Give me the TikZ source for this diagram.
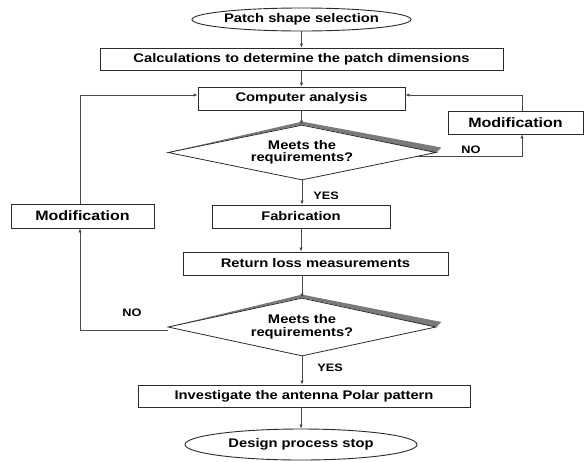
\documentclass[tikz,border=0pt]{standalone}
\usepackage{fontspec}
\setmainfont{Liberation Sans}[FakeStretch=1.18]
\usetikzlibrary{shapes.geometric,arrows.meta,backgrounds}
\definecolor{FCEdge}{HTML}{2B2B2B}
\definecolor{FCLine}{HTML}{4A4A4A}
\definecolor{FCShade}{HTML}{7A7A7A}

\begin{document}
\begin{tikzpicture}[x=1pt,y=-1pt,
  stepbox/.style={draw=FCEdge,line width=0.9pt,rectangle,inner sep=0pt,font=\fontsize{12.5}{14}\selectfont\bfseries},
  termbox/.style={draw=FCEdge,line width=0.9pt,ellipse,inner sep=0pt,font=\fontsize{12.5}{14}\selectfont\bfseries},
  askbox/.style={draw=FCEdge,line width=0.8pt,diamond,inner sep=0pt,align=center,font=\fontsize{12.5}{12.5}\selectfont\bfseries},
  modbox/.style={stepbox,font=\fontsize{13.6}{15}\selectfont\bfseries},
  lbl/.style={inner sep=0pt,font=\fontsize{10.8}{12}\selectfont\bfseries},
  flow/.style={draw=FCLine,line width=0.8pt,-{Latex[length=4pt,width=3.5pt]}}]
\path[use as bounding box] (0,0) rectangle (585,461);
\node[termbox,minimum width=207pt,minimum height=23pt] (start) at (301.5,19.5) {Patch shape selection};
\node[stepbox,minimum width=403pt,minimum height=22pt] (calc) at (301.5,59) {Calculations to determine the patch dimensions};
\node[stepbox,minimum width=207pt,minimum height=23pt] (comp) at (301.5,98.5) {Computer analysis};
\node[askbox,aspect=4.87,minimum width=268pt,minimum height=55pt] (d1) at (302,152.5) {Meets the\\requirements?};
\node[modbox,minimum width=135pt,minimum height=23pt] (modr) at (515.5,122.5) {Modification};
\node[modbox,minimum width=143pt,minimum height=24pt] (modl) at (82.5,216) {Modification};
\node[stepbox,minimum width=178pt,minimum height=23pt] (fab) at (301,216.5) {Fabrication};
\node[stepbox,minimum width=265pt,minimum height=23pt] (ret) at (315.5,263.5) {Return loss measurements};
\node[askbox,aspect=4.62,minimum width=268pt,minimum height=58pt] (d2) at (302,327) {Meets the\\requirements?};
\node[stepbox,minimum width=332pt,minimum height=22pt] (inv) at (304,396) {Investigate the antenna Polar pattern};
\node[termbox,minimum width=232pt,minimum height=31pt] (stop) at (301,444.5) {Design process stop};
\node[lbl] (yes1) at (326,196) {YES};
\node[lbl] (no1) at (471,150) {NO};
\node[lbl] (no2) at (132,313) {NO};
\node[lbl] (yes2) at (330,368) {YES};
\begin{scope}[on background layer]
\fill[FCShade] (d1.west) -- ([yshift=3pt]d1.north) -- ([xshift=5pt,yshift=5pt]d1.east) -- (d1.east) -- (d1.north) -- cycle;
\fill[FCShade] (d2.west) -- ([yshift=3pt]d2.north) -- ([xshift=5pt,yshift=5pt]d2.east) -- (d2.east) -- (d2.north) -- cycle;
\end{scope}
\draw[flow] (start.south) -- (calc.north);
\draw[flow] (calc.south) -- (comp.north);
\draw[flow] (comp.south) -- (comp.south |- d1.north);
\draw[flow] (d1.south) -- (d1.south |- fab.north);
\draw[flow] (fab.south) -- (fab.south |- ret.north);
\draw[flow] (d2.north |- ret.south) -- (d2.north);
\draw[flow] (d2.south) -- (d2.south |- inv.north);
\draw[flow] (inv.south -| stop.north) -- (stop.north);
\draw[flow] (d1.-2) -| ([xshift=6.5pt]modr.south);
\draw[flow] ([xshift=6.5pt]modr.north) |- ([yshift=3.5pt]comp.east);
\draw[flow] ([yshift=-3pt]d2.west) -| ([xshift=-2.5pt]modl.south);
\draw[flow] ([xshift=-2.5pt]modl.north) |- ([yshift=3.5pt]comp.west);
\end{tikzpicture}
\end{document}
